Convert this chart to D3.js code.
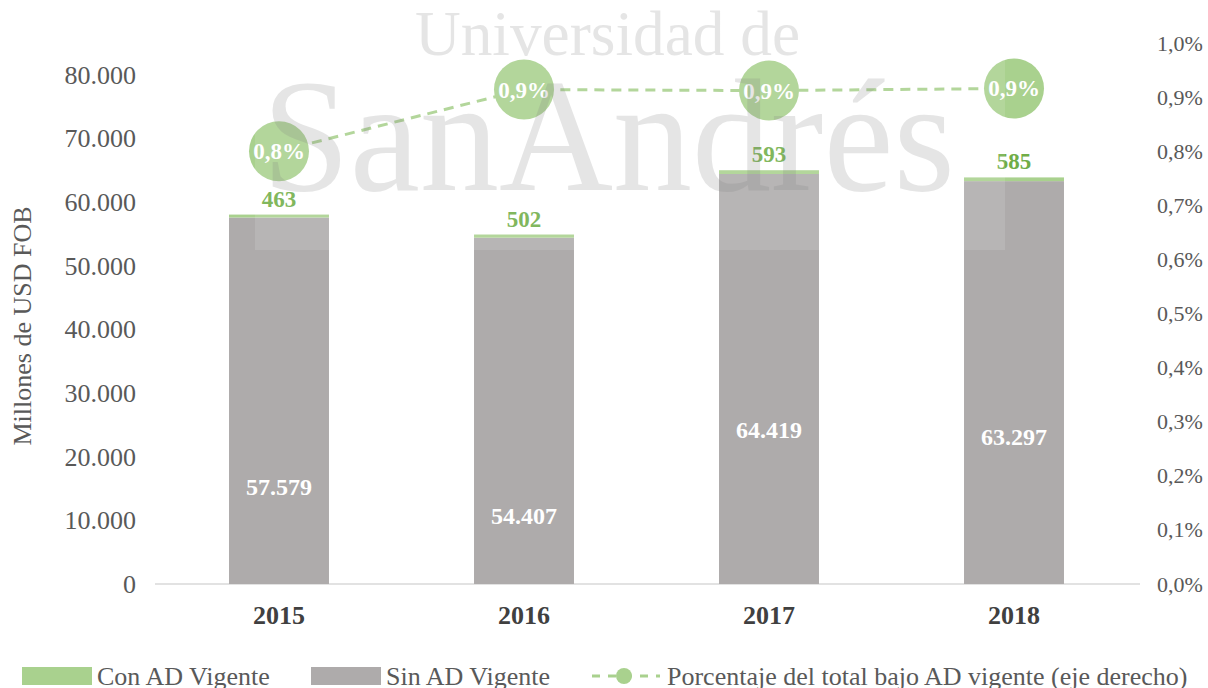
<!DOCTYPE html>
<html>
<head>
<meta charset="utf-8">
<script src="https://cdn.jsdelivr.net/npm/d3@7"></script>
<style>
  body { margin: 0; background: #fff; }
</style>
</head>
<body>
<script>
// datos
var years = ["2015", "2016", "2017", "2018"];
var sinAD = [57579, 54407, 64419, 63297];
var conAD = [463, 502, 593, 585];
var pctAD = [0.0080, 0.00914, 0.00912, 0.00916];
var pctLabels = ["0,8%", "0,9%", "0,9%", "0,9%"];
// where the white labels sit inside the grey bars (in axis units)
var sinLabelAt = [15240, 10680, 24200, 23100];
var leftTicks = [0, 10000, 20000, 30000, 40000, 50000, 60000, 70000, 80000];
var rightTicks = [0, 0.001, 0.002, 0.003, 0.004, 0.005, 0.006, 0.007, 0.008, 0.009, 0.010];

var W = 1208, H = 688;
var FONT = "Liberation Serif, Times New Roman, serif";
var svg = d3.select("body").append("svg")
  .attr("width", W).attr("height", H)
  .attr("font-family", FONT);

var x = d3.scaleBand().domain(years).range([156.5, 1136.5]).paddingInner(0.592).paddingOuter(0.296);
var y = d3.scaleLinear().domain([0, 85000]).range([584, 43]);
var y2 = d3.scaleLinear().domain([0, 0.010]).range([584, 43]);

var fmtNum = function(v){ return d3.format(",")(v).replace(/,/g, "."); };
var fmtPct = function(v){ return (v * 100).toFixed(1).replace(".", ",") + "%"; };

var grey = "#aeabab", green = "#a9d18e", dkgreen = "#70ad47";

// eje x
svg.append("line")
  .attr("x1", 155).attr("x2", 1140)
  .attr("y1", y(0)).attr("y2", y(0))
  .attr("stroke", "#d9d9d9").attr("stroke-width", 1.3);

// left axis
var gl = svg.append("g").attr("transform", "translate(136,0)")
  .call(d3.axisLeft(y).tickValues(leftTicks).tickSize(0).tickPadding(0).tickFormat(fmtNum));
gl.attr("font-family", FONT).attr("font-size", 26);
gl.select(".domain").remove();
gl.selectAll("text").attr("fill", "#595959");

// right axis
var gr = svg.append("g").attr("transform", "translate(1157,0)")
  .call(d3.axisRight(y2).tickValues(rightTicks).tickSize(0).tickPadding(0).tickFormat(fmtPct));
gr.attr("font-family", FONT).attr("font-size", 22);
gr.select(".domain").remove();
gr.selectAll("text").attr("fill", "#595959");

svg.append("text")
  .attr("transform", "translate(31,326) rotate(-90)")
  .attr("text-anchor", "middle")
  .attr("font-size", 26).attr("fill", "#595959")
  .text("Millones de USD FOB");

// categorias
var gx = svg.append("g").attr("transform", "translate(0," + y(0) + ")")
  .call(d3.axisBottom(x).tickSize(0).tickPadding(0));
gx.attr("font-family", FONT).attr("font-size", 26).attr("font-weight", "bold");
gx.select(".domain").remove();
gx.selectAll("text").attr("fill", "#404040").attr("dy", 40);

// barras
svg.selectAll(".sin").data(years).enter().append("rect")
  .attr("x", function(d){ return x(d); })
  .attr("width", x.bandwidth())
  .attr("y", function(d, i){ return y(sinAD[i]); })
  .attr("height", function(d, i){ return y(0) - y(sinAD[i]); })
  .attr("fill", grey);

svg.selectAll(".con").data(years).enter().append("rect")
  .attr("x", function(d){ return x(d); })
  .attr("width", x.bandwidth())
  .attr("y", function(d, i){ return y(sinAD[i] + conAD[i]); })
  .attr("height", function(d, i){ return y(sinAD[i]) - y(sinAD[i] + conAD[i]); })
  .attr("fill", green);

svg.selectAll(".sinlab").data(years).enter().append("text")
  .attr("x", function(d){ return x(d) + x.bandwidth() / 2; })
  .attr("y", function(d, i){ return y(sinLabelAt[i]); })
  .attr("dy", "0.35em")
  .attr("text-anchor", "middle")
  .attr("font-size", 24).attr("font-weight", "bold").attr("fill", "#fff")
  .text(function(d, i){ return fmtNum(sinAD[i]); });

svg.selectAll(".conlab").data(years).enter().append("text")
  .attr("x", function(d){ return x(d) + x.bandwidth() / 2; })
  .attr("y", function(d, i){ return y(sinAD[i] + conAD[i]) - 8; })
  .attr("text-anchor", "middle")
  .attr("font-size", 23).attr("font-weight", "bold").attr("fill", dkgreen)
  .text(function(d, i){ return conAD[i]; });

// linea porcentaje
var line = d3.line()
  .x(function(d, i){ return x(years[i]) + x.bandwidth() / 2; })
  .y(function(d){ return y2(d); });

svg.append("path").datum(pctAD)
  .attr("d", line)
  .attr("fill", "none").attr("stroke", green)
  .attr("stroke-width", 3).attr("stroke-dasharray", "10,7");

svg.selectAll(".dot").data(pctAD).enter().append("circle")
  .attr("cx", function(d, i){ return x(years[i]) + x.bandwidth() / 2; })
  .attr("cy", function(d){ return y2(d); })
  .attr("r", 30)
  .attr("fill", green);

svg.selectAll(".pctlab").data(pctAD).enter().append("text")
  .attr("x", function(d, i){ return x(years[i]) + x.bandwidth() / 2; })
  .attr("y", function(d){ return y2(d); })
  .attr("dy", "0.35em")
  .attr("text-anchor", "middle")
  .attr("font-size", 23).attr("font-weight", "bold").attr("fill", "#fff")
  .text(function(d, i){ return pctLabels[i]; });

// marca de agua
var wm = svg.append("g");
wm.append("rect")
  .attr("x", 255).attr("y", 0).attr("width", 750).attr("height", 250)
  .attr("fill", "#fff").attr("opacity", 0.12);
wm.append("text")
  .attr("x", 415).attr("y", 55)
  .attr("font-size", 63)
  .attr("textLength", 385).attr("lengthAdjust", "spacingAndGlyphs")
  .attr("fill", "#808080").attr("opacity", 0.2)
  .text("Universidad de");
wm.append("text")
  .attr("x", 262).attr("y", 190)
  .attr("font-size", 160)
  .attr("textLength", 693).attr("lengthAdjust", "spacingAndGlyphs")
  .attr("fill", "#808080").attr("opacity", 0.2)
  .text("SanAndrés");

// leyenda
var leg = svg.append("g").attr("font-size", 26).attr("fill", "#595959");
leg.append("rect").attr("x", 22).attr("y", 667).attr("width", 70).attr("height", 18).attr("fill", green);
leg.append("text").attr("x", 97).attr("y", 685).text("Con AD Vigente");
leg.append("rect").attr("x", 311).attr("y", 667).attr("width", 70).attr("height", 18).attr("fill", grey);
leg.append("text").attr("x", 386).attr("y", 685).text("Sin AD Vigente");
leg.append("line").attr("x1", 592).attr("x2", 660).attr("y1", 676).attr("y2", 676)
  .attr("stroke", green).attr("stroke-width", 3).attr("stroke-dasharray", "8,8");
leg.append("circle").attr("cx", 624).attr("cy", 676).attr("r", 8).attr("fill", green);
leg.append("text").attr("x", 667).attr("y", 685).text("Porcentaje del total bajo AD vigente (eje derecho)");
</script>
</body>
</html>
